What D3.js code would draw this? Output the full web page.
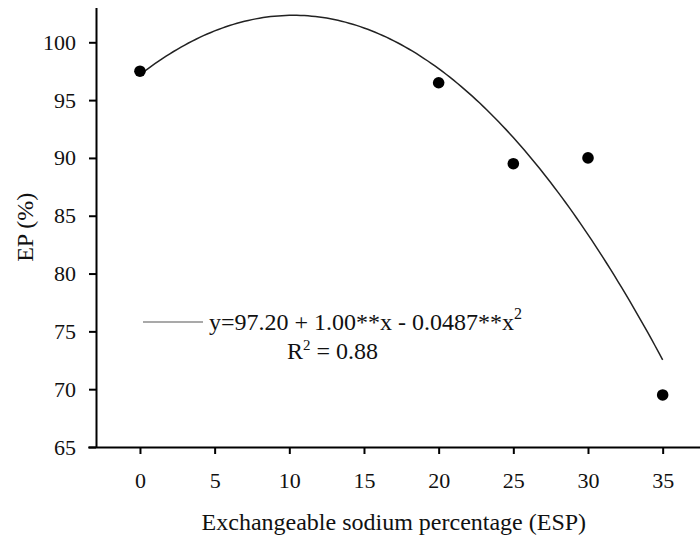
<!DOCTYPE html>
<html>
<head>
<meta charset="utf-8">
<script src="https://cdn.jsdelivr.net/npm/d3@7"></script>
<style>
  html, body { margin: 0; padding: 0; background: #fff; }
  svg { display: block; font-family: "Liberation Serif", "Times New Roman", serif; }
</style>
</head>
<body>
<svg id="chart" width="700" height="540"></svg>
<script>
// Observed emergence percentage at each exchangeable sodium level
const espLevels = [0, 20, 25, 30, 35];
const epValues = [97.5, 96.5, 89.5, 90.0, 69.5];

// Fitted quadratic: y = b0 + b1*x + b2*x^2
const fitCoefficients = [97.20, 1.00, -0.0487];
const fitRange = [0, 35];

const xTickValues = [0, 5, 10, 15, 20, 25, 30, 35];
const yTickValues = [65, 70, 75, 80, 85, 90, 95, 100];

const svg = d3.select("#chart");

const x = d3.scaleLinear().domain([-3.5, 37.5]).range([87.7, 700]);
const y = d3.scaleLinear().domain([65, 103]).range([447, 7.6]);
const yAxisX = 96;

// X axis
const gx = svg.append("g")
  .attr("transform", `translate(0,${y(65)})`)
  .call(d3.axisBottom(x).tickValues(xTickValues).tickSize(7).tickSizeOuter(0).tickFormat(d3.format("d")));
gx.select(".domain").attr("stroke", "#000").attr("stroke-width", 2);
gx.selectAll(".tick line").attr("stroke", "#000").attr("stroke-width", 2);
gx.selectAll(".tick text")
  .attr("y", 41).attr("dy", 0)
  .attr("font-size", 22).attr("font-family", "Liberation Serif").attr("fill", "#111");

// Y axis
const gy = svg.append("g")
  .attr("transform", `translate(${yAxisX},0)`)
  .call(d3.axisLeft(y).tickValues(yTickValues).tickSize(7).tickSizeOuter(0).tickFormat(d3.format("d")));
gy.select(".domain").attr("stroke", "#000").attr("stroke-width", 2);
gy.selectAll(".tick line").attr("stroke", "#000").attr("stroke-width", 2);
gy.selectAll(".tick text")
  .attr("x", -20)
  .attr("font-size", 22).attr("font-family", "Liberation Serif").attr("fill", "#111");

// Axis titles
svg.append("text")
  .attr("x", (x.range()[0] + x.range()[1]) / 2)
  .attr("y", 530)
  .attr("text-anchor", "middle")
  .attr("font-size", 24).attr("fill", "#111")
  .text("Exchangeable sodium percentage (ESP)");

svg.append("text")
  .attr("transform", `translate(33,${(y(65) + y(103)) / 2}) rotate(-90)`)
  .attr("text-anchor", "middle")
  .attr("font-size", 24).attr("fill", "#111")
  .text("EP (%)");

// Fitted curve
const fit = xv => fitCoefficients[0] + fitCoefficients[1] * xv + fitCoefficients[2] * xv * xv;
const curveXs = d3.range(fitRange[0], fitRange[1] + 0.001, 0.25);
svg.append("path")
  .datum(curveXs)
  .attr("fill", "none")
  .attr("stroke", "#222")
  .attr("stroke-width", 1.5)
  .attr("d", d3.line().x(d => x(d)).y(d => y(fit(d))));

// Observed points
svg.append("g")
  .selectAll("circle")
  .data(espLevels.map((e, i) => [e, epValues[i]]))
  .join("circle")
  .attr("cx", d => x(d[0]))
  .attr("cy", d => y(d[1]))
  .attr("r", 5.8)
  .attr("fill", "#000");

// Equation legend
svg.append("line")
  .attr("x1", 143).attr("x2", 203)
  .attr("y1", 322).attr("y2", 322)
  .attr("stroke", "#555").attr("stroke-width", 1.2);

const eq = svg.append("text")
  .attr("x", 209).attr("y", 330)
  .attr("font-size", 24).attr("fill", "#111");
eq.append("tspan").text(`y=${fitCoefficients[0].toFixed(2)} + ${fitCoefficients[1].toFixed(2)}**x - ${Math.abs(fitCoefficients[2]).toFixed(4)}**x`);
eq.append("tspan").attr("dy", -11).attr("font-size", 16).text("2");

const r2 = svg.append("text")
  .attr("x", 287).attr("y", 359)
  .attr("font-size", 24).attr("fill", "#111");
r2.append("tspan").text("R");
r2.append("tspan").attr("dy", -9).attr("font-size", 15).text("2");
r2.append("tspan").attr("dy", 9).text(" = 0.88");
</script>
</body>
</html>
